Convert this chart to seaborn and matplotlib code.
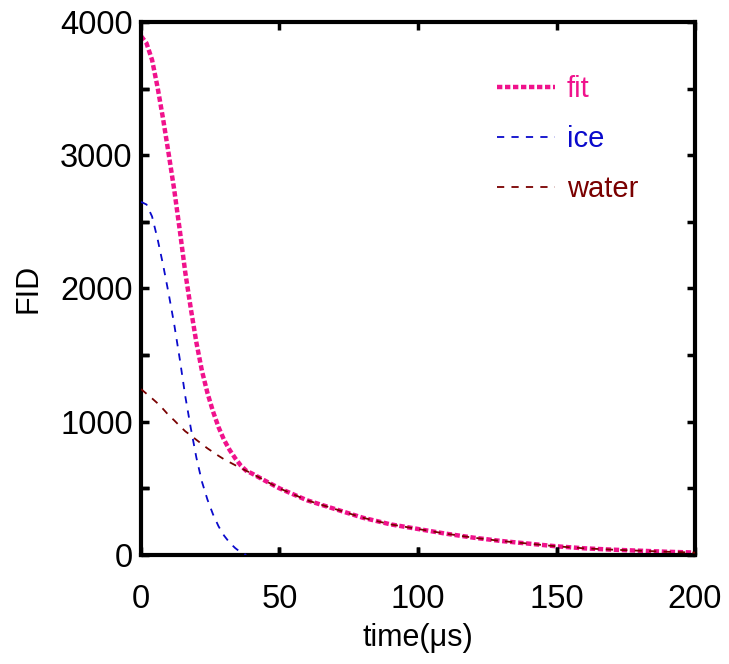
import numpy as np
import pandas as pd
import matplotlib
matplotlib.use("Agg")
import matplotlib.pyplot as plt
import seaborn as sns

# ---- data ----
time_ice = [0, 2, 4, 6, 8, 10, 12, 14, 16, 18, 20, 22, 24, 26, 28, 30, 32, 34, 36, 38]
ice = [2650, 2630, 2540, 2370, 2175, 1960, 1730, 1470, 1190, 950, 730, 550, 415, 305,
       215, 145, 92, 52, 20, 0]

time_all = [0, 2, 4, 6, 8, 10, 12, 14, 16, 18, 20, 22, 24, 26, 28, 30, 32, 34, 36, 38,
            40, 45, 50, 60, 70, 80, 90, 100, 110, 120, 130, 140, 150, 160, 170, 180, 190, 200]
water = [1245, 1210, 1175, 1138, 1095, 1049, 1010, 968, 928, 897, 864, 832, 800, 772,
         744, 718, 696, 674, 652, 632, 612, 555, 500, 410, 345, 280, 230, 195, 160, 130,
         105, 85, 65, 50, 40, 32, 24, 18]
fit = [3895, 3840, 3715, 3508, 3270, 3009, 2740, 2438, 2118, 1847, 1594, 1382, 1215, 1077,
       959, 863, 788, 726, 672, 632, 612, 555, 500, 410, 345, 280, 230, 195, 160, 130,
       105, 85, 65, 50, 40, 32, 24, 18]

x_ticks = [0, 50, 100, 150, 200]
y_ticks = [0, 1000, 2000, 3000, 4000]

col_fit = "#F0128C"
col_ice = "#0A0ACC"
col_water = "#7A0000"

sns.set_style("ticks")
plt.rcParams["font.family"] = ["Liberation Sans", "DejaVu Sans"]
plt.rcParams["axes.axisbelow"] = False

fig = plt.figure(figsize=(7.29, 6.64), dpi=100)
ax = fig.add_axes([0.1934, 0.1642, 0.7600, 0.8027])

df_fit = pd.DataFrame({"t": time_all, "v": fit})
df_ice = pd.DataFrame({"t": time_ice, "v": ice})
df_water = pd.DataFrame({"t": time_all, "v": water})

sns.lineplot(data=df_water, x="t", y="v", ax=ax, color=col_water, lw=1.3,
             linestyle=(0, (4, 4)), label="water", zorder=3)
sns.lineplot(data=df_fit, x="t", y="v", ax=ax, color=col_fit, lw=3.2,
             linestyle=(0, (1.2, 0.6)), label="fit", zorder=2)
sns.lineplot(data=df_ice, x="t", y="v", ax=ax, color=col_ice, lw=1.3,
             linestyle=(0, (4, 4)), label="ice", zorder=3)

ax.set_xlim(0, 200)
ax.set_ylim(0, 4000)
ax.set_xticks(x_ticks)
ax.set_yticks(y_ticks)
ax.set_yticks(np.arange(0, 4001, 500), minor=True)

for s in ax.spines.values():
    s.set_visible(True)
    s.set_linewidth(3)
    s.set_color("black")

ax.tick_params(which="both", direction="in", top=True, right=True, bottom=True,
               left=True, width=2.5, color="black", labelcolor="black",
               length=6, labelsize=23.5, pad=6)
ax.tick_params(axis="x", which="both", pad=21)

# inward tick marks on the left and bottom edges, placed at the axis tick positions
x_marks = [v for v in ax.get_xticks() if 0 < v < 200]
y_marks = [v for v in ax.get_yticks(minor=True) if 0 < v < 4000]
ax.vlines(x_marks, 0, 0.015, transform=ax.get_xaxis_transform(), colors="black",
          lw=2.5, clip_on=False, zorder=4)
ax.hlines(y_marks, 0, 0.0145, transform=ax.get_yaxis_transform(), colors="black",
          lw=2.5, clip_on=False, zorder=4)

ax.set_xlabel("time(\u03bcs)", fontsize=22, labelpad=6, color="black")
ax.set_ylabel("FID", fontsize=22, labelpad=12, color="black")

handles, labels = ax.get_legend_handles_labels()
order = [labels.index("fit"), labels.index("ice"), labels.index("water")]
leg = ax.legend([handles[i] for i in order], [labels[i] for i in order],
                loc="upper left", bbox_to_anchor=(0.642, 0.90), frameon=False,
                fontsize=21, handlelength=2.0, handletextpad=0.4,
                labelspacing=0.75, borderpad=0, borderaxespad=0)
for txt, c in zip(leg.get_texts(), [col_fit, col_ice, col_water]):
    txt.set_color(c)

fig.savefig("out.png", dpi=100)
